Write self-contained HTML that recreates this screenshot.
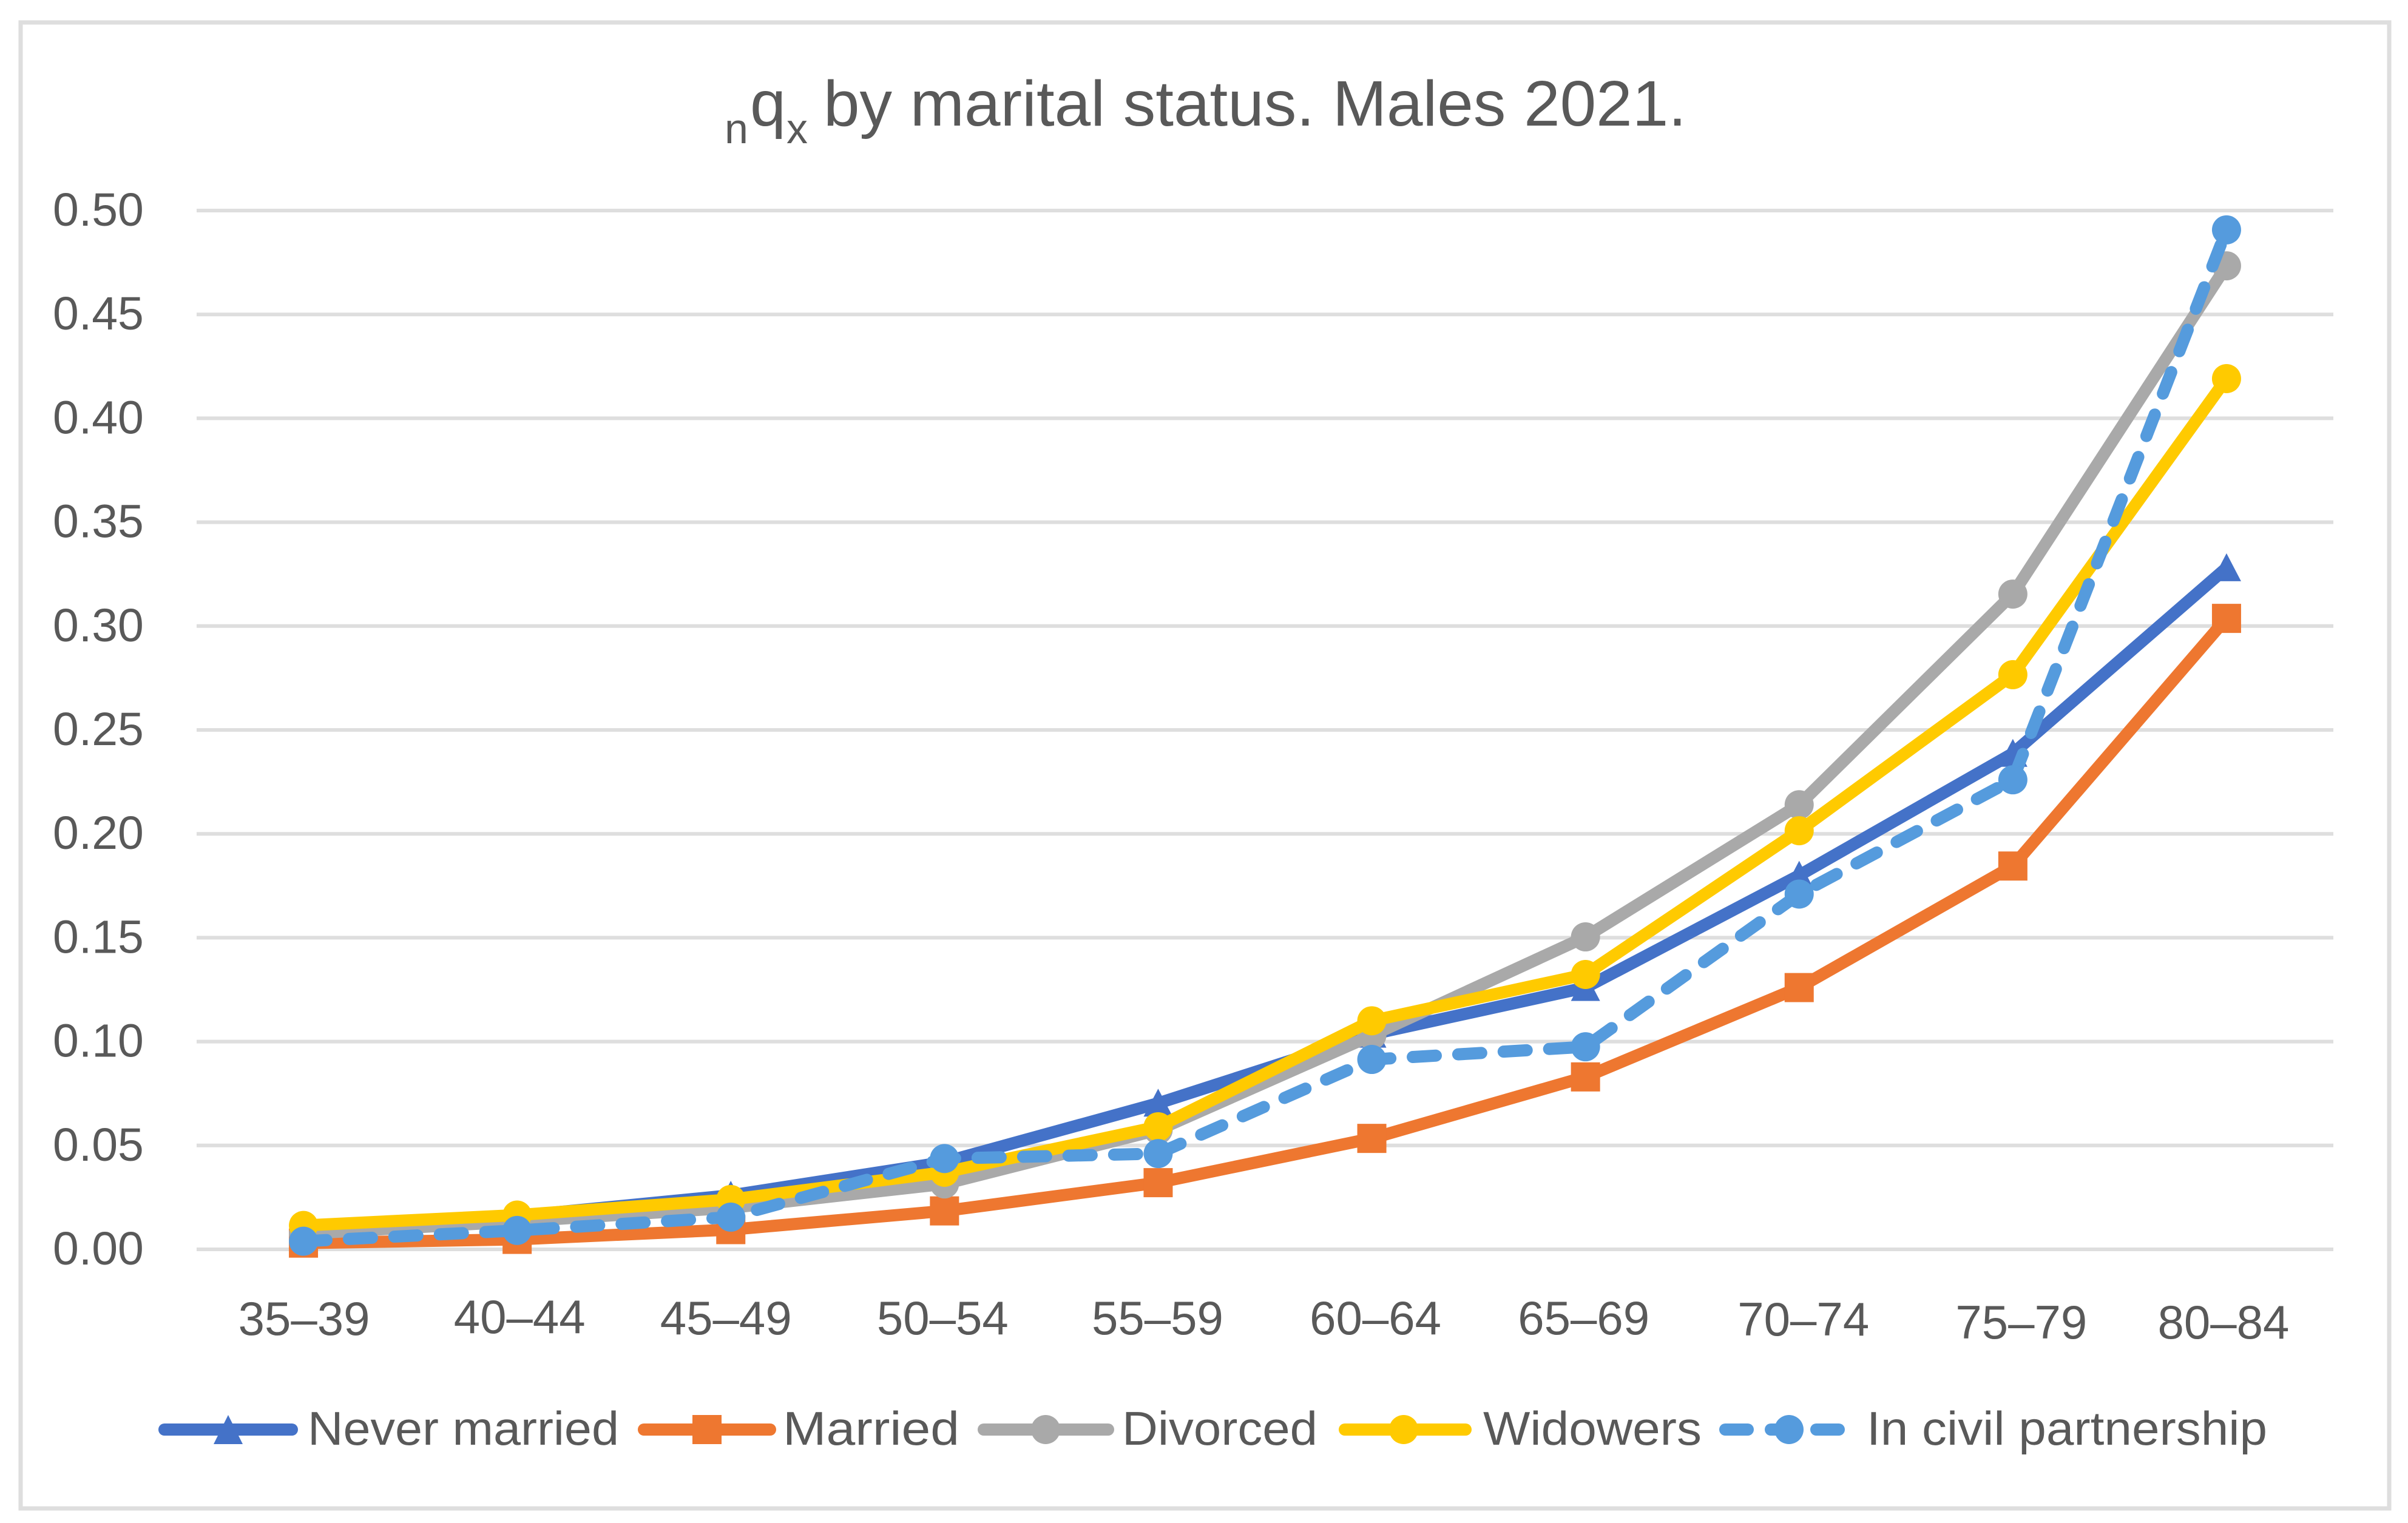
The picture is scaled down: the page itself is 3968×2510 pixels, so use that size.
<!DOCTYPE html>
<html lang="en">
<head>
<meta charset="utf-8">
<title>nqx by marital status. Males 2021.</title>
<style>
  html, body { margin: 0; padding: 0; background: #ffffff; }
  svg { display: block; }
  text { font-family: "Liberation Sans", Arial, sans-serif; fill: #595959; }
</style>
</head>
<body>
<svg id="chart" xmlns="http://www.w3.org/2000/svg" width="3968" height="2510" viewBox="0 0 3968 2510">
  <rect x="0" y="0" width="3968" height="2510" fill="#ffffff"/>
  <rect x="34" y="37" width="3903" height="2449" fill="#ffffff" stroke="#dedede" stroke-width="7"/>

  <g>
    <text x="1194" y="236" font-size="70">n</text>
    <text x="1236" y="207" font-size="106">q</text>
    <text x="1296" y="236" font-size="70">x</text>
    <text x="1357" y="207" font-size="106" textLength="1422" lengthAdjust="spacingAndGlyphs">by marital status. Males 2021.</text>
  </g>

  <g id="grid"></g>
  <g id="yticks"></g>
  <g id="xticks"></g>
  <g id="series"></g>

  <g>
    <g>
      <line x1="271" y1="2356" x2="481" y2="2356" stroke="#4472c8" stroke-width="20" stroke-linecap="round"/>
      <polygon points="376,2332 400,2380 352,2380" fill="#4472c8"/>
      <text x="507" y="2381" font-size="78" textLength="513" lengthAdjust="spacingAndGlyphs">Never married</text>
    </g>
    <g>
      <line x1="1061" y1="2356" x2="1269" y2="2356" stroke="#ee7730" stroke-width="20" stroke-linecap="round"/>
      <rect x="1141" y="2332" width="48" height="48" fill="#ee7730"/>
      <text x="1290" y="2381" font-size="78" textLength="291" lengthAdjust="spacingAndGlyphs">Married</text>
    </g>
    <g>
      <line x1="1621" y1="2356" x2="1826" y2="2356" stroke="#a9a9a9" stroke-width="20" stroke-linecap="round"/>
      <circle cx="1723" cy="2356" r="24" fill="#a9a9a9"/>
      <text x="1849" y="2381" font-size="78" textLength="322" lengthAdjust="spacingAndGlyphs">Divorced</text>
    </g>
    <g>
      <line x1="2216" y1="2356" x2="2415" y2="2356" stroke="#ffca00" stroke-width="20" stroke-linecap="round"/>
      <circle cx="2313" cy="2356" r="24" fill="#ffca00"/>
      <text x="2444" y="2381" font-size="78" textLength="360" lengthAdjust="spacingAndGlyphs">Widowers</text>
    </g>
    <g>
      <line x1="2843" y1="2356" x2="2880" y2="2356" stroke="#559bdd" stroke-width="20" stroke-linecap="round"/>
      <line x1="2918" y1="2356" x2="2950" y2="2356" stroke="#559bdd" stroke-width="20" stroke-linecap="round"/>
      <line x1="2993" y1="2356" x2="3030" y2="2356" stroke="#559bdd" stroke-width="20" stroke-linecap="round"/>
      <circle cx="2948" cy="2356" r="24" fill="#559bdd"/>
      <text x="3076" y="2381" font-size="78" textLength="660" lengthAdjust="spacingAndGlyphs">In civil partnership</text>
    </g>
  </g>
</svg>

<script>
const categories = ["35–39", "40–44", "45–49", "50–54", "55–59", "60–64", "65–69", "70–74", "75–79", "80–84"];
const yTickValues = [0, 0.05, 0.10, 0.15, 0.20, 0.25, 0.30, 0.35, 0.40, 0.45, 0.50];
const neverMarried = [0.0065, 0.016, 0.026, 0.042, 0.0703, 0.1035, 0.126, 0.180, 0.2387, 0.328];
const married = [0.003, 0.0048, 0.0095, 0.0185, 0.0321, 0.0534, 0.083, 0.126, 0.1845, 0.3037];
const divorced = [0.0075, 0.0134, 0.020, 0.0315, 0.0575, 0.103, 0.1504, 0.214, 0.3154, 0.4734];
const widowers = [0.0115, 0.0165, 0.0240, 0.0371, 0.059, 0.110, 0.1323, 0.2015, 0.2766, 0.4191];
const civilPartnership = [0.0039, 0.0091, 0.0155, 0.0437, 0.0461, 0.0914, 0.0975, 0.171, 0.226, 0.4907];

const SVG_NS = "http://www.w3.org/2000/svg";
const plotLeft = 324;
const plotRight = 3845;
const y0 = 2059;
const yPerUnit = 3424;

function xScale(i) {
  const step = (plotRight - plotLeft) / categories.length;
  return plotLeft + step * (i + 0.5);
}
function yScale(v) {
  return y0 - v * yPerUnit;
}
function make(tag, attrs, parent) {
  const el = document.createElementNS(SVG_NS, tag);
  for (const k in attrs) el.setAttribute(k, attrs[k]);
  parent.appendChild(el);
  return el;
}

function drawAxes() {
  const grid = document.getElementById("grid");
  const yticks = document.getElementById("yticks");
  const xticks = document.getElementById("xticks");
  yTickValues.forEach(function (v) {
    const line = make("line", { x1: plotLeft, x2: plotRight, y1: yScale(v), y2: yScale(v), stroke: "#dedede", "stroke-width": 6 }, grid);
    
    
    const label = make("text", { x: 87, y: yScale(v) + 25, "font-size": 77 }, yticks);
    
    
    label.textContent = v.toFixed(2);
  });
  // Hand-placed label offsets seen in the source chart (layout only, not data)
  const nudgeX = [1, 4, -8, -3, -1, 6, -3, 7, 14, -5];
  const nudgeY = [2200, 2197, 2199, 2199, 2199, 2199, 2199, 2201, 2206, 2206];
  categories.forEach(function (c, i) {
    const label = make("text", { x: xScale(i) + nudgeX[i], y: nudgeY[i], "font-size": 78, "text-anchor": "middle" }, xticks);
    
    
    label.textContent = c;
  });
}

function drawMarker(group, kind, cx, cy, color) {
  if (kind === "triangle") {
    const tri = make("polygon", { points: cx + "," + (cy - 24) + " " + (cx + 24) + "," + (cy + 22) + " " + (cx - 24) + "," + (cy + 22), fill: color }, group);
    
    
  } else if (kind === "square") {
    const sq = make("rect", { x: cx - 24, y: cy - 24, width: 48, height: 48, fill: color }, group);
    
    
  } else {
    const dot = make("circle", { cx: cx, cy: cy, r: 24, fill: color }, group);
    
    
  }
}

function drawSeries(values, color, kind, dashed, name) {
  const host = document.getElementById("series");
  const group = make("g", {}, host);
  
  
  const pts = values.map(function (v, i) { return xScale(i) + "," + yScale(v); }).join(" ");
  const line = make("polyline", { points: pts, fill: "none", stroke: color, "stroke-width": 20, "stroke-linejoin": "round", "stroke-linecap": dashed ? "round" : "butt" }, group);
  
  
  if (dashed) line.setAttribute("stroke-dasharray", "38 37");
  values.forEach(function (v, i) {
    drawMarker(group, kind, xScale(i), yScale(v), color);
  });
}

drawAxes();
drawSeries(neverMarried, "#4472c8", "triangle", false, "series-never-married");
drawSeries(married, "#ee7730", "square", false, "series-married");
drawSeries(divorced, "#a9a9a9", "circle", false, "series-divorced");
drawSeries(widowers, "#ffca00", "circle", false, "series-widowers");
drawSeries(civilPartnership, "#559bdd", "circle", true, "series-in-civil-partnership");
</script>
</body>
</html>
